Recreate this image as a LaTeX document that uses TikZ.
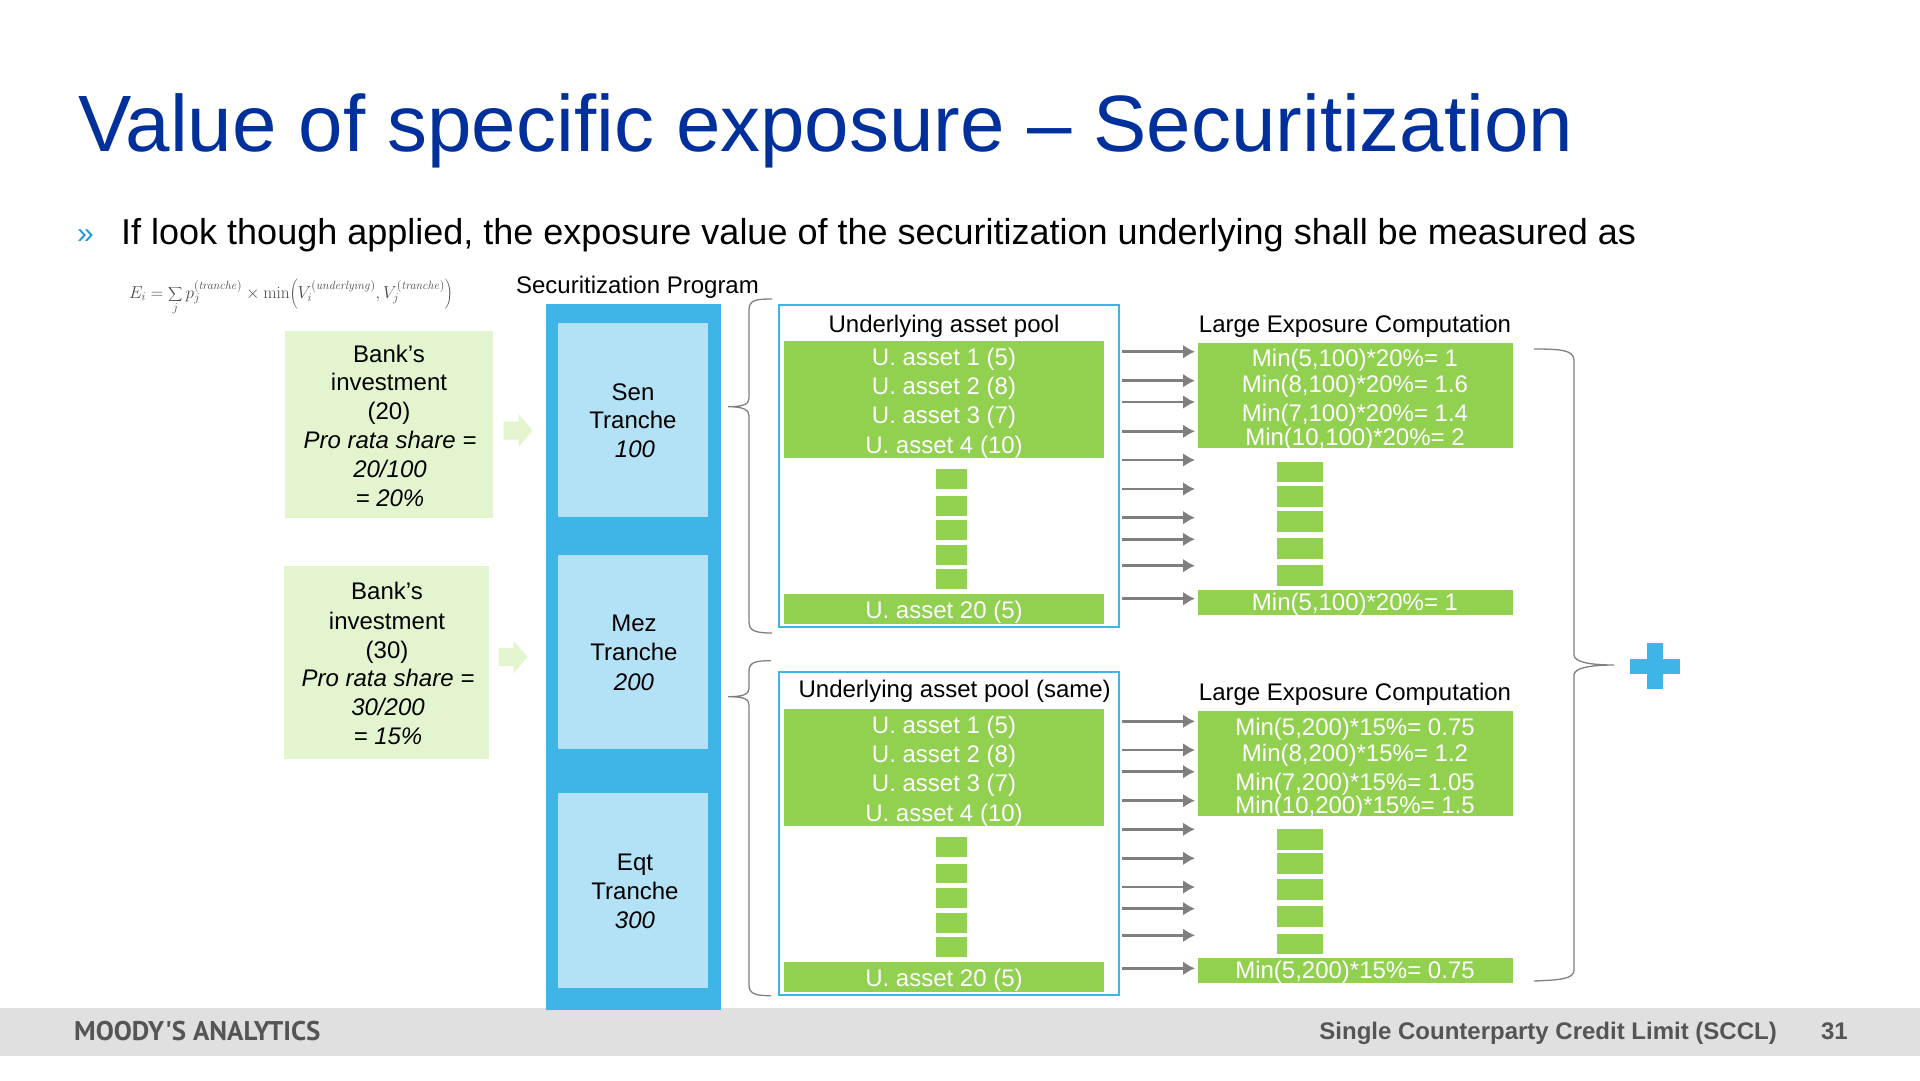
\documentclass[tikz,border=0pt]{standalone}
\usepackage[no-math]{fontspec}
\setmainfont{Liberation Sans}
\newfontfamily\ptfont{PT Sans}
\usetikzlibrary{arrows.meta}
\definecolor{titleblue}{HTML}{00309B}
\definecolor{bulletblue}{HTML}{1E9BD7}
\definecolor{progblue}{HTML}{3FB4E6}
\definecolor{tranche}{HTML}{B3E1F5}
\definecolor{assetgreen}{HTML}{92D050}
\definecolor{palegreen}{HTML}{E2F5CF}
\definecolor{flowgray}{HTML}{7F7F7F}
\definecolor{bracegray}{HTML}{808080}
\definecolor{footgray}{HTML}{E0E0E0}
\definecolor{foottext}{HTML}{555555}
\newcommand{\pxbox}[6]{\node[#2,minimum width=#5pt-#3pt,minimum height=#6pt-#4pt] (#1) at ({(#3+#5)/2},{(#4+#6)/2}) {};}
\tikzset{
  x=1pt,y=-1pt,
  plainbox/.style={inner sep=0pt,outer sep=0pt,draw=none},
  greenbox/.style={plainbox,fill=assetgreen},
  programbox/.style={plainbox,fill=progblue},
  tranchebox/.style={plainbox,fill=tranche},
  sharebox/.style={plainbox,fill=palegreen},
  poolbox/.style={plainbox,draw=progblue,line width=2pt},
  lbl/.style={inner sep=0pt,outer sep=0pt,font=\fontsize{24}{29}\selectfont,text height=17pt,text depth=1pt,align=center},
  wlbl/.style={lbl,text=white},
  flow/.style={draw=flowgray,line width=2.6pt,-{Latex[length=12pt,width=14pt]}},
  bracket/.style={draw=bracegray,line width=1.3pt},
}
\begin{document}
\begin{tikzpicture}
\useasboundingbox (0,0) rectangle (1920,1080);
\fill[white] (0,0) rectangle (1920,1080);
% title and bullet
\node[anchor=base west,inner sep=0pt,text=titleblue,font=\fontsize{79.9}{90}\selectfont] (title) at (78,151) {Value of specific exposure – Securitization};
\node[anchor=base west,inner sep=0pt,text=bulletblue,font=\fontsize{30}{36}\selectfont] (bullet) at (77,243) {»};
\node[anchor=base west,inner sep=0pt,font=\fontsize{36}{43}\selectfont] (lead) at (121,244) {If look though applied, the exposure value of the securitization underlying shall be measured as};
% formula
\node[inner sep=0pt,text=black!70,font=\fontsize{18.7}{22}\selectfont] (formula) at (291,297) {$\displaystyle E_i=\sum_j p_j^{(\mathit{tranche})}\times\mathrm{min}\!\left(V_i^{(\mathit{underlying})},V_j^{(\mathit{tranche})}\right)$};
% footer
\pxbox{footer}{plainbox,fill=footgray}{0}{1008}{1920}{1056}
\node[anchor=base west,inner sep=0pt,text=foottext,font=\ptfont\bfseries\fontsize{27}{30}\selectfont] (moodys) at (74,1040) {MOODY'S ANALYTICS};
\node[anchor=base east,inner sep=0pt,text=foottext,font=\bfseries\fontsize{24}{29}\selectfont] (sccl) at (1777,1039) {Single Counterparty Credit Limit (SCCL)};
\node[anchor=base east,inner sep=0pt,text=foottext,font=\bfseries\fontsize{24}{29}\selectfont] (page) at (1848,1039) {31};
% securitization program
\node[lbl] (progtitle) at (637.5,285) {Securitization Program};
\pxbox{program}{programbox}{546}{304}{721}{1010}
\pxbox{sen}{tranchebox}{558}{323}{708}{517}
\pxbox{mez}{tranchebox}{558}{555}{708}{749}
\pxbox{eqt}{tranchebox}{558}{793}{708}{988}
\node[lbl] at (633,392) (sen1) {Sen};
\node[lbl] at (633,420.5) (sen2) {Tranche};
\node[lbl] at (635,449.5) (sen3) {\itshape 100};
\node[lbl] at (634,623) (mez1) {Mez};
\node[lbl] at (634,652.5) (mez2) {Tranche};
\node[lbl] at (634,682) (mez3) {\itshape 200};
\node[lbl] at (635,862) (eqt1) {Eqt};
\node[lbl] at (635,891.5) (eqt2) {Tranche};
\node[lbl] at (635,920) (eqt3) {\itshape 300};
% bank boxes
\pxbox{bankA}{sharebox}{285}{331}{493}{518}
\node[lbl] at (389,354) (a1) {Bank’s};
\node[lbl] at (389,382.5) (a2) {investment};
\node[lbl] at (389,411.5) (a3) {(20)};
\node[lbl] at (390,440) (a4) {\itshape Pro rata share =};
\node[lbl] at (390,469) (a5) {\itshape 20/100};
\node[lbl] at (390,498) (a6) {\itshape = 20\%};
\pxbox{bankB}{sharebox}{284}{566}{489}{759}
\node[lbl] at (387,591.5) (b1) {Bank’s};
\node[lbl] at (387,621) (b2) {investment};
\node[lbl] at (387,650) (b3) {(30)};
\node[lbl] at (388,678) (b4) {\itshape Pro rata share =};
\node[lbl] at (388,707) (b5) {\itshape 30/200};
\node[lbl] at (388,736) (b6) {\itshape = 15\%};
\fill[palegreen] (503.6,421.5) -- (518.6,421.5) -- (518.6,414) -- (532.4,430.5) -- (518.6,447) -- (518.6,439.5) -- (503.6,439.5) -- cycle;
\fill[palegreen] (498.5,648) -- (513.5,648) -- (513.5,640.5) -- (527.5,657) -- (513.5,673.5) -- (513.5,666) -- (498.5,666) -- cycle;
% pool 1
\pxbox{poolA}{poolbox}{778.7}{304.7}{1118.8}{627}
\node[lbl] (poolAt) at (944,324) {Underlying asset pool};
\node[lbl] (compAt) at (1355,324) {Large Exposure Computation};
\pxbox{ua1}{greenbox}{784}{341}{1104}{369.9}
\pxbox{ua2}{greenbox}{784}{370.2}{1104}{458.3}
\pxbox{ua3}{greenbox}{784}{594}{1104}{624}
\foreach \n/\ya/\yb in {1/469/489,2/495.7/515.7,3/520/540,4/545/565,5/569/589}{\pxbox{uad\n}{greenbox}{936}{\ya}{967}{\yb}}
\node[wlbl] (t1) at (944,357.5) {U. asset 1 (5)};
\node[wlbl] (t2) at (944,386) {U. asset 2 (8)};
\node[wlbl] (t3) at (944,415) {U. asset 3 (7)};
\node[wlbl] (t4) at (944,445) {U. asset 4 (10)};
\node[wlbl] (t5) at (944,610) {U. asset 20 (5)};
\pxbox{ca1}{greenbox}{1198}{343}{1513}{397}
\pxbox{ca2}{greenbox}{1198}{397.3}{1513}{448}
\pxbox{ca3}{greenbox}{1198}{590}{1513}{614.7}
\foreach \n/\ya/\yb in {1/461.7/482.3,2/485.7/506.7,3/510.7/531.7,4/538/558.7,5/565.3/586.3}{\pxbox{cad\n}{greenbox}{1277}{\ya}{1323}{\yb}}
\node[wlbl] (c1) at (1355,358.5) {Min(5,100)*20\%= 1};
\node[wlbl] (c2) at (1355,384.5) {Min(8,100)*20\%= 1.6};
\node[wlbl] (c3) at (1355,413.5) {Min(7,100)*20\%= 1.4};
\node[wlbl] (c4) at (1355,437) {Min(10,100)*20\%= 2};
\node[wlbl] (c5) at (1355,602.5) {Min(5,100)*20\%= 1};
% pool 2
\pxbox{poolB}{poolbox}{778.7}{672.3}{1119}{995.3}
\node[lbl] (poolBt) at (954.7,689.5) {Underlying asset pool (same)};
\node[lbl] (compBt) at (1355,692) {Large Exposure Computation};
\pxbox{ub1}{greenbox}{784}{709}{1104}{738.6}
\pxbox{ub2}{greenbox}{784}{738.9}{1104}{826.3}
\pxbox{ub3}{greenbox}{784}{962.3}{1104}{991.7}
\foreach \n/\ya/\yb in {1/837/857,2/863.7/883,3/888/907.7,4/913.3/932.7,5/937.3/956.7}{\pxbox{ubd\n}{greenbox}{936}{\ya}{967}{\yb}}
\node[wlbl] (s1) at (944,725) {U. asset 1 (5)};
\node[wlbl] (s2) at (944,754) {U. asset 2 (8)};
\node[wlbl] (s3) at (944,783.5) {U. asset 3 (7)};
\node[wlbl] (s4) at (944,813) {U. asset 4 (10)};
\node[wlbl] (s5) at (944,978.5) {U. asset 20 (5)};
\pxbox{cb1}{greenbox}{1198}{711}{1513}{738.8}
\pxbox{cb2}{greenbox}{1198}{739.1}{1513}{816.3}
\pxbox{cb3}{greenbox}{1198}{958}{1513}{982.7}
\foreach \n/\ya/\yb in {1/829.3/850,2/853.3/874,3/879/899.7,4/906/926.7,5/933.7/954.3}{\pxbox{cbd\n}{greenbox}{1277}{\ya}{1323}{\yb}}
\node[wlbl] (d1) at (1355,727) {Min(5,200)*15\%= 0.75};
\node[wlbl] (d2) at (1355,753.5) {Min(8,200)*15\%= 1.2};
\node[wlbl] (d3) at (1355,782) {Min(7,200)*15\%= 1.05};
\node[wlbl] (d4) at (1355,805) {Min(10,200)*15\%= 1.5};
\node[wlbl] (d5) at (1355,970) {Min(5,200)*15\%= 0.75};
% arrows
\foreach \i/\y in {1/351.7,2/380.7,3/402,4/431.3,5/460,6/489,7/517.7,8/539.3,9/565.7,10/598.7,11/721.3,12/750,13/771.7,14/800.7,15/829.3,16/858.3,17/887,18/908.7,19/935.3,20/968.3}{
  \coordinate (fa\i) at (1122,\y);
  \coordinate (fb\i) at (1195,\y);
  \draw[flow] (fa\i) -- (fb\i);
}
% braces
\draw[bracket] (772,299) .. controls (756,299) and (749,300) .. (749,310) -- (749,398) .. controls (749,404) and (744,406.7) .. (728,406.7) .. controls (744,406.7) and (749,410) .. (749,416) -- (749,622) .. controls (749,631) and (756,633) .. (772,633);
\draw[bracket] (771,660.7) .. controls (756,660.7) and (749,662) .. (749,671) -- (749,688) .. controls (749,694) and (744,696.7) .. (728,696.7) .. controls (744,696.7) and (749,699) .. (749,705) -- (749,985) .. controls (749,994) and (756,995.7) .. (771,995.7);
\draw[bracket] (1534,349) .. controls (1560,349) and (1574,350) .. (1574,360) -- (1574,655) .. controls (1574,662) and (1590,665) .. (1614,665) .. controls (1590,665) and (1574,668) .. (1574,675) -- (1574,970) .. controls (1574,979) and (1560,980) .. (1534,981);
% plus
\fill[progblue] (1646.6,643) rectangle (1662.6,689);
\fill[progblue] (1630,659) rectangle (1680,674);
\end{tikzpicture}
\end{document}
